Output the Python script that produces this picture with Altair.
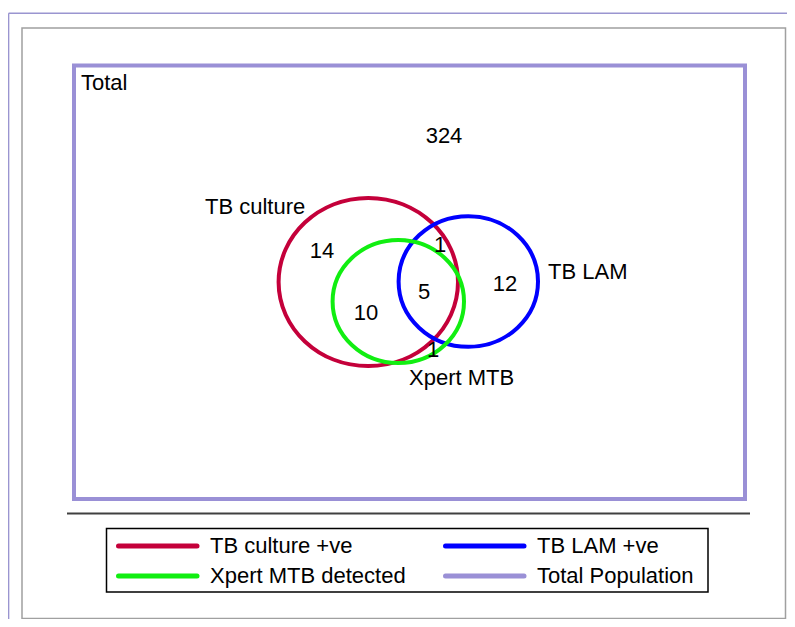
import altair as alt
import pandas as pd

# ---- data ----
series = ["TB culture +ve", "TB LAM +ve", "Xpert MTB detected", "Total Population"]
series_colors = ["#c4003a", "#0000ff", "#11ee11", "#9a90d6"]

set_names = ["TB culture +ve", "TB LAM +ve", "Xpert MTB detected"]
set_labels = ["TB culture", "TB LAM", "Xpert MTB", "Total"]

region_names = ["None", "Culture only", "Culture & Xpert", "All three",
                "Culture & LAM", "Xpert & LAM", "LAM only"]
region_counts = [324, 14, 10, 5, 1, 1, 12]

# ---- layout (page pixel units) ----
circle_cx = [368.3, 468.3, 398.3]
circle_cy = [282.0, 281.5, 301.5]
circle_r = [89.7, 69.7, 65.7]
ELLIPSE = ("M1,0 C1,0.5175 0.5523,0.937 0,0.937 C-0.5523,0.937 -1,0.5175 -1,0 "
           "C-1,-0.5175 -0.5523,-0.937 0,-0.937 C0.5523,-0.937 1,-0.5175 1,0 Z")

region_x = [444, 322, 366, 424, 440, 433, 505]
region_y = [142.5, 258, 320, 299, 252, 357, 291]

label_x = [205, 548, 409, 81]
label_y = [213.5, 279, 385, 89.5]

# legend layout: grid positions for the four series
leg_col_x = [116, 443, 116, 443]
leg_row_y = [546, 546, 576, 576]

W, H = 779, 611
xs = alt.Scale(domain=[8, 8 + W], range=[0, W], nice=False, zero=False)
ys = alt.Scale(domain=[8, 8 + H], range=[0, H], nice=False, zero=False)
col = alt.Scale(domain=series, range=series_colors)

FONT = "Liberation Sans"
FS = 22


def X(f="x"):
    return alt.X(f"{f}:Q", scale=xs, axis=None)


def Y(f="y"):
    return alt.Y(f"{f}:Q", scale=ys, axis=None)


# decorations
frame_df = pd.DataFrame({"x": [22], "x2": [785.5], "y": [28], "y2": [618.5]})
frame = alt.Chart(frame_df).mark_rect(fillOpacity=0, stroke="#a0a0a0", strokeWidth=1.5).encode(
    x=X(), x2="x2:Q", y=Y(), y2="y2:Q")

outer_df = pd.DataFrame({"x": [8.6, 8.6], "x2": [795, 8.6], "y": [13.3, 13.3], "y2": [13.3, 627]})
outer = alt.Chart(outer_df).mark_rule(color="#9a95d0", strokeWidth=1.5).encode(
    x=X(), x2="x2:Q", y=Y(), y2="y2:Q")

sep_df = pd.DataFrame({"x": [67], "x2": [750], "y": [513.5], "y2": [513.5]})
sep = alt.Chart(sep_df).mark_rule(color="#404040", strokeWidth=2).encode(
    x=X(), x2="x2:Q", y=Y(), y2="y2:Q")

# total population box
tot_df = pd.DataFrame({"series": ["Total Population"], "x": [74], "x2": [745], "y": [65.5], "y2": [499]})
total_box = alt.Chart(tot_df).mark_rect(fillOpacity=0, strokeWidth=4).encode(
    x=X(), x2="x2:Q", y=Y(), y2="y2:Q",
    stroke=alt.Stroke("series:N", scale=col, legend=None))

# venn circles
circ_df = pd.DataFrame({
    "series": set_names,
    "x": circle_cx, "y": circle_cy,
    "size": [(2 * r) ** 2 for r in circle_r],
    "order": [0, 1, 2],
})
circles = alt.Chart(circ_df).mark_point(shape=ELLIPSE, filled=False, strokeWidth=4, opacity=1).encode(
    x=X(), y=Y(),
    size=alt.Size("size:Q", scale=None),
    stroke=alt.Stroke("series:N", scale=col, legend=None),
    order="order:Q")

# counts
cnt_df = pd.DataFrame({"region": region_names, "count": region_counts, "x": region_x, "y": region_y})
counts = alt.Chart(cnt_df).mark_text(font=FONT, fontSize=FS, color="black",
                                     align="center", baseline="alphabetic").encode(
    x=X(), y=Y(), text="count:Q")

lab_df = pd.DataFrame({"label": set_labels, "x": label_x, "y": label_y})
labels = alt.Chart(lab_df).mark_text(font=FONT, fontSize=FS, color="black",
                                     align="left", baseline="alphabetic").encode(
    x=X(), y=Y(), text="label:N")

# legend (drawn from the series list)
leg_df = pd.DataFrame({
    "series": series,
    "x": [c + 2.5 for c in leg_col_x],
    "x2": [c + 81 for c in leg_col_x],
    "tx": [c + 94 for c in leg_col_x],
    "y": leg_row_y,
})
leg_box_df = pd.DataFrame({"x": [106.5], "x2": [708], "y": [528.5], "y2": [592]})
leg_box = alt.Chart(leg_box_df).mark_rect(fillOpacity=0, stroke="black", strokeWidth=1.5).encode(
    x=X(), x2="x2:Q", y=Y(), y2="y2:Q")
leg_lines = alt.Chart(leg_df).mark_rule(strokeWidth=5, strokeCap="round").encode(
    x=X(), x2="x2:Q", y=Y(), y2="y:Q",
    stroke=alt.Stroke("series:N", scale=col, legend=None))
leg_text = alt.Chart(leg_df).mark_text(font=FONT, fontSize=FS, color="black",
                                       align="left", baseline="middle").encode(
    x=X("tx"), y=Y(), text="series:N")

chart = alt.layer(outer, frame, total_box, sep, circles, counts, labels,
                  leg_box, leg_lines, leg_text).properties(
    width=W, height=H, padding=0,
    autosize=alt.AutoSizeParams(type="none"),
    background="white",
).configure_view(stroke=None)

chart.save("out.html", embed_options={"renderer": "svg", "actions": False})
